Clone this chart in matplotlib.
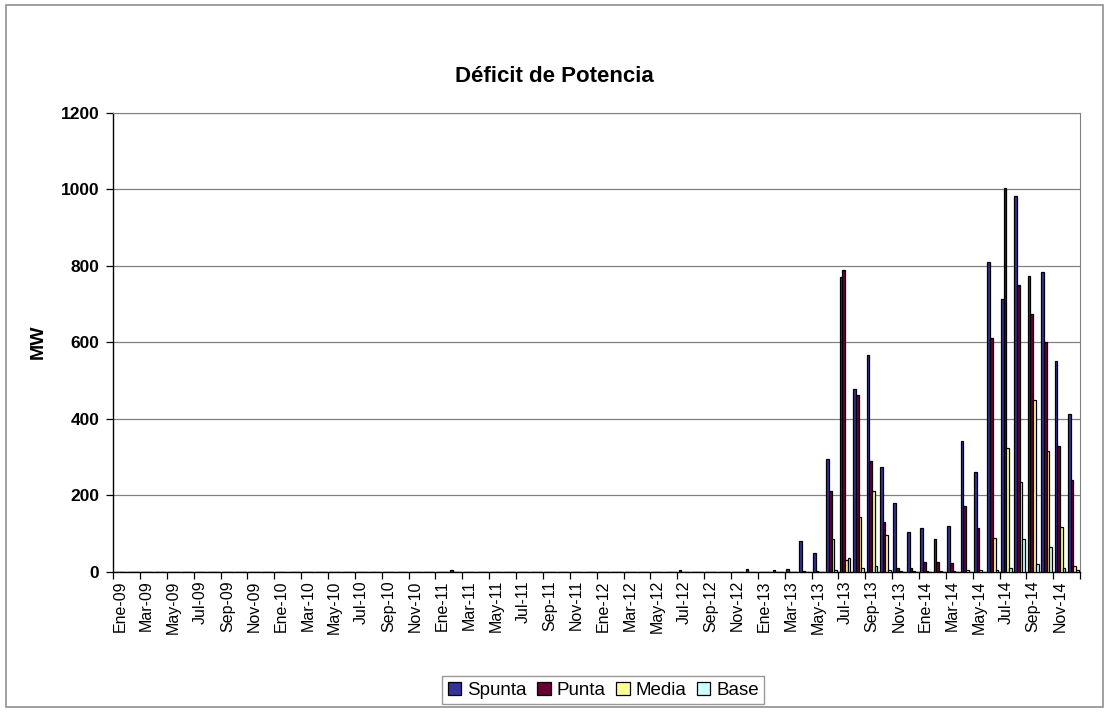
import matplotlib.pyplot as plt
import numpy as np
from matplotlib.patches import Rectangle

plt.rcParams['font.family'] = ['Liberation Sans', 'DejaVu Sans']

# Month labels Ene-09 .. Dic-14
month_names = ['Ene', 'Feb', 'Mar', 'Abr', 'May', 'Jun',
               'Jul', 'Ago', 'Sep', 'Oct', 'Nov', 'Dic']
years = ['09', '10', '11', '12', '13', '14']
months = [f"{m}-{y}" for y in years for m in month_names]

# Power deficit (MW) per month, one row per year
spunta = [0, 0, 0, 0, 0, 0, 0, 0, 0, 0, 0, 0,
          0, 0, 0, 0, 0, 0, 0, 0, 0, 0, 0, 0,
          0, 5, 0, 0, 0, 0, 0, 0, 0, 0, 0, 0,
          0, 0, 0, 0, 0, 0, 4, 0, 0, 0, 0, 7,
          0, 6, 7, 80, 48, 296, 771, 478, 567, 275, 180, 105,
          114, 86, 121, 341, 260, 811, 713, 981, 774, 783, 552, 413]
punta = [0, 0, 0, 0, 0, 0, 0, 0, 0, 0, 0, 0,
         0, 0, 0, 0, 0, 0, 0, 0, 0, 0, 0, 0,
         0, 0, 0, 0, 0, 0, 0, 0, 0, 0, 0, 0,
         0, 0, 0, 0, 0, 0, 0, 0, 0, 0, 0, 0,
         0, 0, 0, 3, 2, 210, 790, 463, 290, 131, 10, 10,
         25, 25, 23, 171, 114, 611, 1002, 750, 674, 600, 329, 240]
media = [0, 0, 0, 0, 0, 0, 0, 0, 0, 0, 0, 0,
         0, 0, 0, 0, 0, 0, 0, 0, 0, 0, 0, 0,
         0, 0, 0, 0, 0, 0, 0, 0, 0, 0, 0, 0,
         0, 0, 0, 0, 0, 0, 0, 0, 0, 0, 0, 0,
         0, 0, 0, 0, 0, 87, 30, 142, 212, 97, 3, 2,
         3, 3, 3, 5, 5, 88, 323, 236, 450, 316, 118, 15]
base = [0, 0, 0, 0, 0, 0, 0, 0, 0, 0, 0, 0,
        0, 0, 0, 0, 0, 0, 0, 0, 0, 0, 0, 0,
        0, 0, 0, 0, 0, 0, 0, 0, 0, 0, 0, 0,
        0, 0, 0, 0, 0, 0, 0, 0, 0, 0, 0, 0,
        0, 0, 0, 0, 0, 5, 35, 10, 15, 5, 0, 0,
        0, 0, 0, 0, 0, 5, 10, 85, 20, 65, 10, 5]

series = [('Spunta', spunta, '#333399'),
          ('Punta', punta, '#660033'),
          ('Media', media, '#FFFF99'),
          ('Base', base, '#CCFFFF')]

fig = plt.figure(figsize=(11.09, 7.13), dpi=100)
ax = fig.add_axes([0.102, 0.198, 0.872, 0.644])

x = np.arange(len(months))
w = 0.2
for i, (name, vals, color) in enumerate(series):
    ax.bar(x + (i - 1.5) * w, vals, w, color=color, edgecolor='black',
           linewidth=0.9, label=name, zorder=3)

ax.set_xlim(-0.5, len(months) - 0.5)
ax.set_ylim(0, 1200)
ax.set_yticks(np.arange(0, 1201, 200))
ax.yaxis.grid(True, color='#808080', linewidth=0.9, zorder=0)

# labels every second month, tick marks between the label pairs
ax.set_xticks(x[::2])
ax.set_xticklabels(months[::2], rotation=90, fontsize=11.5)
ax.set_xticks(np.arange(-0.5, len(months), 2), minor=True)
ax.tick_params(axis='x', which='major', length=0, pad=6)
ax.tick_params(axis='x', which='minor', length=5, width=0.9)
ax.tick_params(axis='y', length=5, width=0.9, labelsize=12.5, pad=5)
for lbl in ax.get_yticklabels():
    lbl.set_fontweight('bold')

for side in ['top', 'right']:
    ax.spines[side].set_color('#808080')
for side in ['left', 'bottom']:
    ax.spines[side].set_color('black')
    ax.spines[side].set_linewidth(1.0)

ax.set_ylabel('MW', fontsize=14, fontweight='bold', labelpad=10)
fig.text(0.5, 0.893, 'Déficit de Potencia', ha='center', va='center',
         fontsize=16, fontweight='bold')

leg = fig.legend(loc='center', bbox_to_anchor=(0.544, 0.032), ncol=4,
                 fontsize=13.5, frameon=True, fancybox=False, edgecolor='#808080',
                 handlelength=0.7, handleheight=0.7, handletextpad=0.3,
                 columnspacing=0.6, borderpad=0.3)
leg.get_frame().set_linewidth(1.0)

# outer chart border
fig.patches.append(Rectangle((0.005, 0.008), 0.99, 0.985, transform=fig.transFigure,
                             fill=False, edgecolor='#909090', linewidth=1.2))

plt.savefig('out.png', dpi=100)
